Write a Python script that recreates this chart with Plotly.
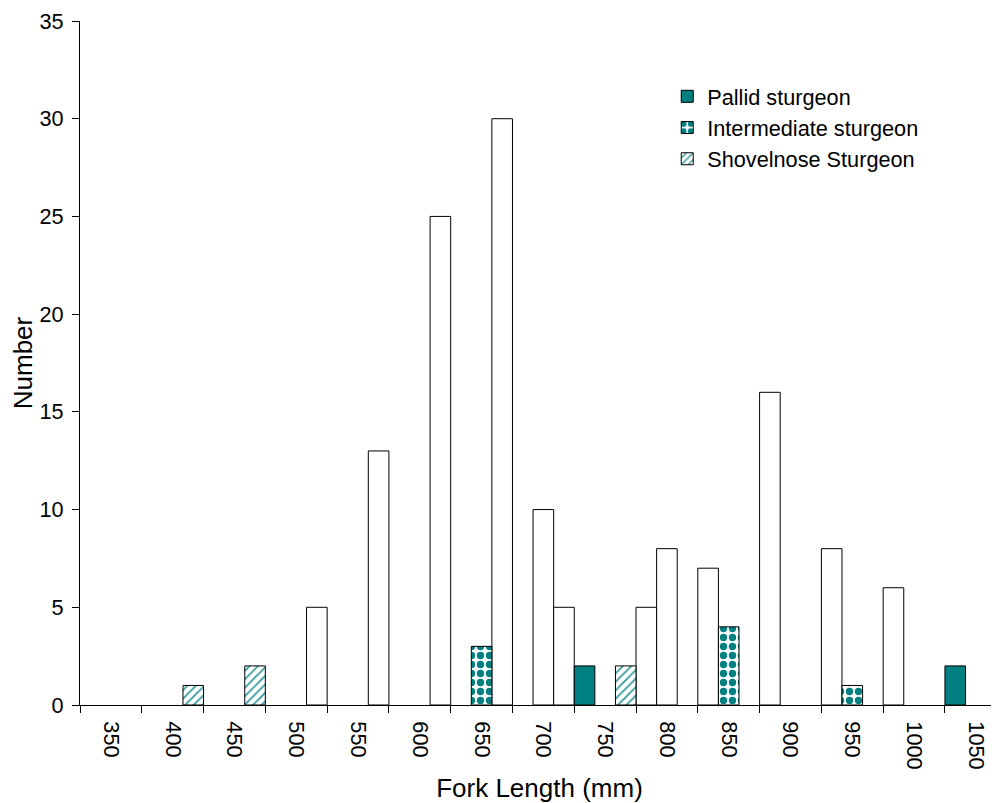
import plotly.graph_objects as go

# ---- data ----
categories = ["350", "400", "450", "500", "550", "600", "650", "700",
              "750", "800", "850", "900", "950", "1000", "1050"]
pallid = [0, 0, 0, 0, 0, 0, 0, 0, 2, 0, 0, 0, 0, 0, 2]
intermediate = [0, 0, 0, 0, 0, 0, 3, 0, 0, 0, 4, 0, 1, 0, 0]
shovelnose = [0, 1, 2, 0, 0, 0, 0, 0, 2, 0, 0, 0, 0, 0, 0]
# unlabelled white bars, by position within each category (left / middle / right)
other_left = [0, 0, 0, 0, 0, 0, 0, 0, 0, 5, 7, 16, 8, 6, 0]
other_mid = [0, 0, 0, 0, 0, 0, 0, 10, 0, 8, 0, 0, 0, 0, 0]
other_right = [0, 0, 0, 5, 13, 25, 30, 5, 0, 0, 0, 0, 0, 0, 0]
y_ticks = [0, 5, 10, 15, 20, 25, 30, 35]

TEAL = "#008080"
FONT = "Arial, 'Liberation Sans', sans-serif"
W = 1 / 3

def none_zero(vals):
    return [v if v else None for v in vals]

fig = go.Figure()

def add_bar(vals, slot, name, fill, pattern=None, legend=True):
    marker = dict(color=fill, line=dict(color="black", width=1))
    if pattern:
        marker["pattern"] = pattern
    fig.add_trace(go.Bar(
        x=categories, y=none_zero(vals), name=name,
        width=W, offset=-0.5 + slot * W,
        marker=marker, showlegend=legend,
    ))

add_bar(other_left, 0, "other", "white", legend=False)
add_bar(other_mid, 1, "other", "white", legend=False)
add_bar(other_right, 2, "other", "white", legend=False)
add_bar(pallid, 0, "Pallid sturgeon", TEAL)
add_bar(intermediate, 1, "Intermediate sturgeon", "white",
        dict(shape=".", fgcolor=TEAL, bgcolor="white", size=9,
             solidity=0.52, fillmode="overlay", fgopacity=1))
add_bar(shovelnose, 2, "Shovelnose Sturgeon", "white",
        dict(shape="/", fgcolor=TEAL, bgcolor="white", size=6,
             solidity=0.3, fillmode="overlay", fgopacity=0.8))

fig.update_layout(
    width=999, height=803,
    margin=dict(l=72, r=8, t=13, b=106, autoexpand=False),
    paper_bgcolor="white", plot_bgcolor="white",
    barmode="overlay",
    font=dict(family=FONT, size=21.7, color="black"),
    legend=dict(
        x=0.639, y=0.92, xanchor="left", yanchor="top",
        bgcolor="rgba(0,0,0,0)", tracegroupgap=0,
        font=dict(size=21.7),
    ),
)
fig.update_xaxes(
    type="category", range=[-0.5, 14.375],
    tickson="boundaries", ticks="outside", ticklen=7, tickcolor="black",
    tickangle=90, ticklabelstandoff=11, ticklabeloverflow="allow",
    showline=True, linecolor="black", linewidth=1,
    showgrid=False, zeroline=False,
    title=dict(text="Fork Length (mm)", standoff=10),
)
fig.update_yaxes(
    range=[0, 35], tickvals=y_ticks, ticks="outside", ticklen=7,
    tickcolor="black", ticklabelstandoff=4, ticklabeloverflow="allow",
    showline=True, linecolor="black", linewidth=1,
    showgrid=False, zeroline=False,
    title=dict(text="Number", standoff=0),
)

fig.write_html("out.html")
